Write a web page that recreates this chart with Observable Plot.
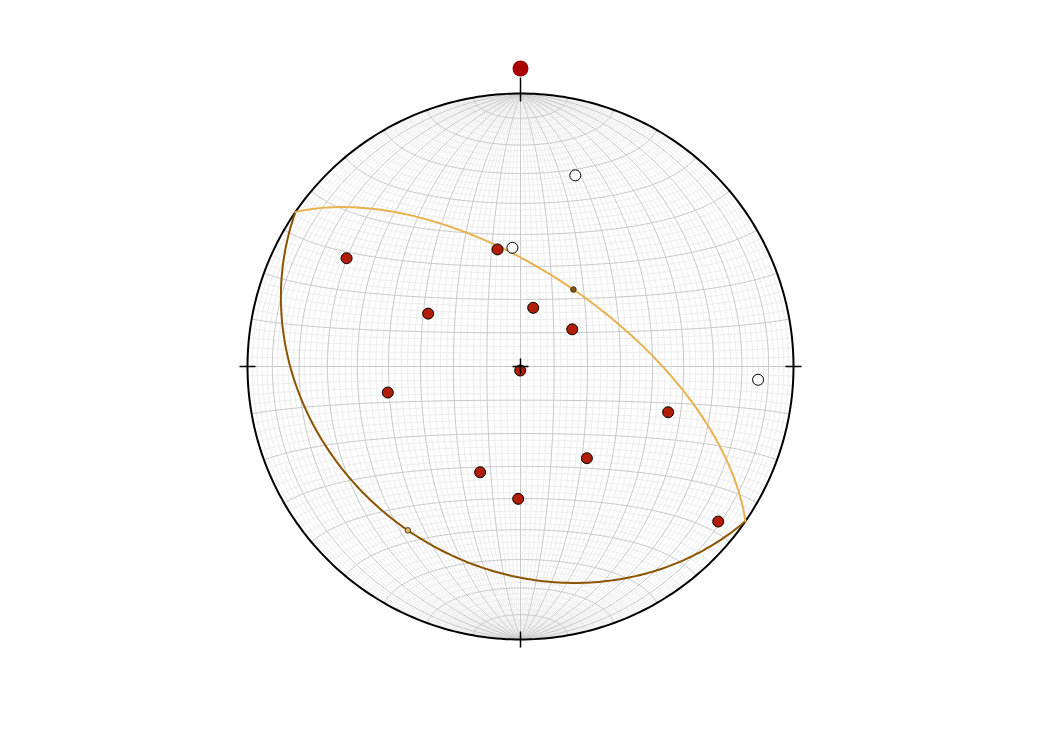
<!DOCTYPE html>
<html>
<head>
<meta charset="utf-8">
<script src="https://cdn.jsdelivr.net/npm/d3@7"></script>
<script src="https://cdn.jsdelivr.net/npm/@observablehq/plot@0.6"></script>
<style>
  body { margin: 0; background: white; }
</style>
</head>
<body>
<div id="chart"></div>
<script>
const redTrend = [301.9, 348.9, 12.2, 54.3, 299.8, 184, 258.9, 107.2, 200.9, 144.1, 181, 128.1]
const redPlunge = [25.9, 54.0, 72.1, 71.0, 58.0, 88.8, 49.0, 42.8, 55.9, 55.9, 49.9, 8.8]
const whiteTrend = [356.1, 16.0, 93.2]
const whitePlunge = [54.1, 28.0, 13.9]
// planos: direccion de buzamiento y buzamiento
const planeDipDir = [214.5, 34.5]
const planeDip = [28, 62]
const planeColor = ["#8b5500", "#e8b250"]

const rad = Math.PI / 180

// vector (este, norte, abajo) -> lon/lat de la proyeccion ecuatorial
function vecToLonLat(e, n, dn) {
  return [Math.atan2(e, dn) / rad, Math.asin(Math.max(-1, Math.min(1, n))) / rad]
}
function lineToLonLat(trend, plunge) {
  const t = trend * rad, p = plunge * rad
  return vecToLonLat(Math.cos(p) * Math.sin(t), Math.cos(p) * Math.cos(t), Math.sin(p))
}
function planeCircle(dd, dip) {
  const s = (dd - 90) * rad, t = dd * rad, p = dip * rad
  const sv = [Math.sin(s), Math.cos(s), 0]
  const dv = [Math.cos(p) * Math.sin(t), Math.cos(p) * Math.cos(t), Math.sin(p)]
  const coords = d3.range(0, 180.5, 1).map(a => {
    const c = Math.cos(a * rad), si = Math.sin(a * rad)
    return vecToLonLat(c * sv[0] + si * dv[0], c * sv[1] + si * dv[1], c * sv[2] + si * dv[2])
  })
  return {type: "LineString", coordinates: coords}
}

// red de Schmidt
function grid(step, major) {
  const lines = []
  for (const lon of d3.range(-90 + step, 90, step)) {
    if (!major && lon % 10 === 0) continue
    lines.push(d3.range(-90, 90.5, 1).map(lat => [lon, lat]))
  }
  for (const lat of d3.range(-90 + step, 90, step)) {
    if (!major && lat % 10 === 0) continue
    lines.push(d3.range(-90, 90.5, 1).map(lon => [lon, lat]))
  }
  return {type: "MultiLineString", coordinates: lines}
}

const reds = redTrend.map((t, i) => lineToLonLat(t, redPlunge[i]))
const whites = whiteTrend.map((t, i) => lineToLonLat(t, whitePlunge[i]))
const planes = planeDipDir.map((d, i) => ({geom: planeCircle(d, planeDip[i]), color: planeColor[i]}))
const poles = planeDipDir.map((d, i) => ({p: lineToLonLat(d + 180, 90 - planeDip[i]), color: planeColor[i]}))

const rim = {type: "LineString", coordinates: d3.range(0, 361, 1).map(a => vecToLonLat(Math.sin(a * rad), Math.cos(a * rad), 0.0000001))}

const tickV = {draw(ctx, size) { const h = Math.sqrt(size / Math.PI); ctx.moveTo(0, -h); ctx.lineTo(0, h) }}
const tickN = {draw(ctx, size) { const h = Math.sqrt(size / Math.PI); ctx.moveTo(0, -2 * h); ctx.lineTo(0, h) }}
const tickH = {draw(ctx, size) { const h = Math.sqrt(size / Math.PI); ctx.moveTo(-h, 0); ctx.lineTo(h, 0) }}
const cross = {draw(ctx, size) { const h = Math.sqrt(size / Math.PI); ctx.moveTo(-h, 0); ctx.lineTo(h, 0); ctx.moveTo(0, -h); ctx.lineTo(0, h) }}

let chart = Plot.plot({
  width: 1041,
  height: 734,
  marginTop: 93,
  marginBottom: 95,
  marginLeft: 247,
  marginRight: 248,
  projection: {
    type: "azimuthal-equal-area",
    domain: {type: "MultiPoint", coordinates: [[-90, 0], [90, 0], [0, 90], [0, -90]]},
    clip: false
  },
  marks: [
    Plot.geo([grid(2, false)], {stroke: "#ededed", strokeWidth: 1}),
    Plot.geo([grid(10, true)], {stroke: "#c8c8c8", strokeWidth: 1}),
    Plot.geo([rim], {stroke: "black", strokeWidth: 2}),
    Plot.geo(planes, {geometry: d => d.geom, stroke: d => d.color, strokeWidth: 2}),
    Plot.dot(reds, {x: d => d[0], y: d => d[1], r: 5.5, fill: "#b11d05", stroke: "black", strokeWidth: 1}),
    Plot.dot(whites, {x: d => d[0], y: d => d[1], r: 5.5, fill: "white", stroke: "black", strokeWidth: 1}),
    Plot.dot(poles, {x: d => d.p[0], y: d => d.p[1], r: 2.8, fill: d => d.color, stroke: "#222", strokeWidth: 0.8}),
    Plot.dot([[0, 89.9999]], {x: d => d[0], y: d => d[1], symbol: tickN, r: 8, fill: "none", stroke: "black", strokeWidth: 1.5}),
    Plot.dot([[0, -89.9999]], {x: d => d[0], y: d => d[1], symbol: tickV, r: 8, fill: "none", stroke: "black", strokeWidth: 1.5}),
    Plot.dot([[89.9999, 0], [-89.9999, 0]], {x: d => d[0], y: d => d[1], symbol: tickH, r: 8, fill: "none", stroke: "black", strokeWidth: 1.5}),
    Plot.dot([[0, 0]], {x: d => d[0], y: d => d[1], symbol: cross, r: 8, fill: "none", stroke: "black", strokeWidth: 1.5}),
    Plot.dot([[0, 89.9999]], {x: d => d[0], y: d => d[1], r: 8, fill: "#a80000", dy: -25})
  ]
})
d3.select('#chart').append(() => chart)
</script>
</body>
</html>
